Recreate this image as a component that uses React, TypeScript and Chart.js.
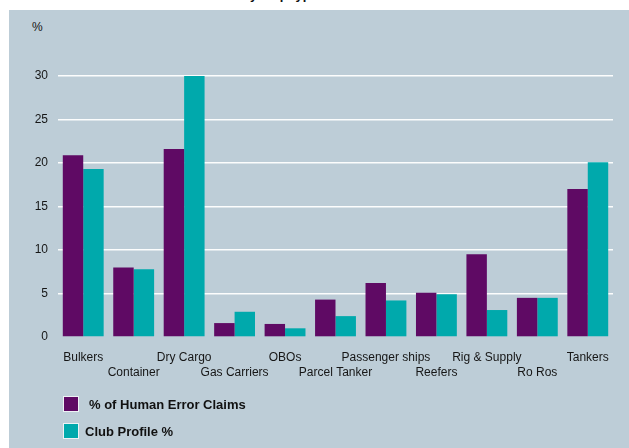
import React, { useEffect, useRef } from 'react';
import { Chart, registerables } from 'chart.js';

Chart.register(...registerables);

const categories = [
  'Bulkers',
  'Container',
  'Dry Cargo',
  'Gas Carriers',
  'OBOs',
  'Parcel Tanker',
  'Passenger ships',
  'Reefers',
  'Rig & Supply',
  'Ro Ros',
  'Tankers',
];
const humanErrorClaims = [20.9, 8.0, 21.6, 1.6, 1.5, 4.3, 6.2, 5.1, 9.5, 4.5, 17.0];
const clubProfile = [19.3, 7.8, 30.0, 2.9, 1.0, 2.4, 4.2, 4.9, 3.1, 4.5, 20.1];
const seriesNames = ['% of Human Error Claims', 'Club Profile %'];
const seriesColors = ['#5f0a64', '#00a9ac'];
const yMin = 0;
const yMax = 30;
const yStep = 5;
const yUnit = '%';
const titleText = 'Human Error Claims by ship type';

const FONT = '"Liberation Sans", Arial, sans-serif';
const PANEL = '#bdcdd7';

export default function App() {
  const canvasRef = useRef<HTMLCanvasElement | null>(null);

  useEffect(() => {
    const canvas = canvasRef.current;
    if (!canvas) return;
    const chart = new Chart(canvas, {
      type: 'bar',
      data: {
        labels: categories,
        datasets: [
          {
            label: seriesNames[0],
            data: humanErrorClaims,
            backgroundColor: seriesColors[0],
            borderWidth: 0,
            categoryPercentage: 0.81,
            barPercentage: 1,
          },
          {
            label: seriesNames[1],
            data: clubProfile,
            backgroundColor: seriesColors[1],
            borderWidth: 0,
            categoryPercentage: 0.81,
            barPercentage: 1,
          },
        ],
      },
      options: {
        responsive: false,
        animation: false,
        layout: { padding: { left: 0, right: 16, top: 76, bottom: 11 } },
        plugins: {
          legend: { display: false },
          tooltip: { enabled: false },
          title: { display: false },
        },
        scales: {
          x: {
            grid: { display: false, drawTicks: false },
            border: { display: false },
            ticks: {
              autoSkip: false,
              maxRotation: 0,
              minRotation: 0,
              padding: 13,
              color: '#161616',
              font: { family: FONT, size: 12, lineHeight: 1.25 },
              callback: (_v: any, i: number) => (i % 2 ? ['', categories[i]] : categories[i]),
            },
            afterFit: (s: any) => {
              s.height = 100;
            },
          },
          y: {
            min: yMin,
            max: yMax,
            ticks: {
              stepSize: yStep,
              padding: 10,
              color: '#161616',
              font: { family: FONT, size: 12 },
            },
            grid: {
              drawTicks: false,
              lineWidth: 1.4,
              color: (ctx: any) =>
                ctx.tick && ctx.tick.value === 0 ? 'rgba(0,0,0,0)' : 'rgba(255,255,255,0.95)',
            },
            border: { display: false },
            afterFit: (s: any) => {
              s.width = 58;
            },
          },
        },
      },
    });
    return () => chart.destroy();
  }, []);

  return (
    <div
      style={{
        position: 'absolute',
        left: 0,
        top: 0,
        width: 629,
        height: 448,
        overflow: 'hidden',
        background: '#ffffff',
        fontFamily: FONT,
      }}
    >
      <div
        style={{
          position: 'absolute',
          left: 0,
          top: 0,
          width: 629,
          height: 10,
          overflow: 'hidden',
        }}
      >
        <div
          style={{
            position: 'absolute',
            left: 0,
            top: -12,
            width: 318,
            textAlign: 'right',
            fontSize: 13,
            lineHeight: '13px',
            fontWeight: 'bold',
            color: '#111',
            whiteSpace: 'nowrap',
          }}
        >
          {titleText}
        </div>
      </div>
      <div
        style={{
          position: 'absolute',
          left: 9,
          top: 10,
          right: 0,
          bottom: 0,
          background: PANEL,
        }}
      />
      <div
        style={{
          position: 'absolute',
          left: 32,
          top: 19,
          fontSize: 12,
          lineHeight: '16px',
          color: '#161616',
        }}
      >
        {yUnit}
      </div>
      <canvas
        ref={canvasRef}
        width={629}
        height={448}
        style={{ position: 'absolute', left: 0, top: 0, display: 'block' }}
      />
      {seriesNames.map((name, i) => (
        <div
          key={name}
          style={{
            position: 'absolute',
            left: 63,
            top: 396 + i * 27,
            height: 16,
            display: 'flex',
            alignItems: 'center',
          }}
        >
          <span
            style={{
              display: 'inline-block',
              width: 14,
              height: 14,
              background: seriesColors[i],
              border: '1px solid #eef2f5',
            }}
          />
          <span
            style={{
              marginLeft: i === 0 ? 10 : 6,
              fontSize: 13,
              fontWeight: 'bold',
              color: '#111',
              whiteSpace: 'nowrap',
            }}
          >
            {name}
          </span>
        </div>
      ))}
    </div>
  );
}
